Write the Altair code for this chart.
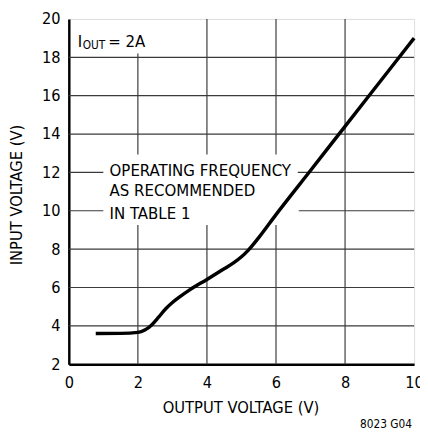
import altair as alt
import pandas as pd

FONT = "DejaVu Sans Condensed, Liberation Sans Narrow, sans-serif"

# Curve: output voltage (V) vs minimum input voltage (V), I_OUT = 2A
x_out = [0.78, 1.5, 2.0, 2.2, 2.4, 2.6, 2.8, 3.0, 3.2, 3.5, 4.0,
         4.5, 4.8, 5.0, 5.2, 5.5, 6.0, 7.0, 8.0, 9.0, 10.0]
v_in = [3.6, 3.61, 3.66, 3.78, 4.05, 4.45, 4.88, 5.22, 5.5, 5.88, 6.42,
        6.98, 7.32, 7.6, 7.95, 8.6, 9.8, 12.1, 14.4, 16.7, 19.0]

x_ticks = [0, 2, 4, 6, 8, 10]
y_ticks = [2, 4, 6, 8, 10, 12, 14, 16, 18, 20]

# Grid segments (broken where the annotations sit)
vgrid_x = [2, 2, 4, 4, 6, 6, 8]
vgrid_y1 = [2, 12.94, 2, 12.94, 2, 12.94, 2]
vgrid_y2 = [9.26, 18.2, 9.26, 20, 9.26, 20, 20]

hgrid_y = [4, 6, 8, 10, 10, 12, 12, 14, 16, 18]
hgrid_x1 = [0, 0, 0, 0, 6.66, 0, 6.63, 0, 0, 0]
hgrid_x2 = [10, 10, 10, 1.0, 10, 1.0, 10, 10, 10, 10]

# Annotations
note_text = ["OPERATING FREQUENCY", "AS RECOMMENDED", "IN TABLE 1"]
note_x = [1.18, 1.18, 1.18]
note_y = [11.82, 10.76, 9.57]

iout_text = ["I", "OUT", "= 2A"]
iout_x = [0.256, 0.40, 1.14]
iout_y = [18.55, 18.45, 18.55]
iout_size = [17, 12, 17]

foot_text = ["8023 G04"]
foot_x = [9.94]
foot_y = [-1.33]

xs = alt.Scale(domain=[0, 10], nice=False)
ys = alt.Scale(domain=[2, 20], nice=False)

curve = pd.DataFrame({"vout": x_out, "vin": v_in})
vg = pd.DataFrame({"gx": vgrid_x, "y1": vgrid_y1, "y2": vgrid_y2})
hg = pd.DataFrame({"gy": hgrid_y, "x1": hgrid_x1, "x2": hgrid_x2})
notes = pd.DataFrame({"t": note_text, "x": note_x, "y": note_y})
iout = pd.DataFrame({"t": iout_text, "x": iout_x, "y": iout_y, "s": iout_size})
foot = pd.DataFrame({"t": foot_text, "x": foot_x, "y": foot_y})

x_axis = alt.Axis(values=x_ticks, title="OUTPUT VOLTAGE (V)", grid=False, ticks=False,
                  labelFont=FONT, labelFontSize=16.5, labelColor="black", labelPadding=11,
                  titleFont=FONT, titleFontSize=16.7, titleFontWeight="normal",
                  titleColor="black", titleBaseline="middle", titleY=44, titleX=175,
                  domainColor="black", domainWidth=2.5, labelFlush=False)
y_axis = alt.Axis(values=y_ticks, title="INPUT VOLTAGE (V)", grid=False, ticks=False,
                  labelFont=FONT, labelFontSize=16.5, labelColor="black", labelPadding=9,
                  titleFont=FONT, titleFontSize=16.7, titleFontWeight="normal",
                  titleColor="black", titleBaseline="middle", titleX=-53, titleY=179,
                  titleAngle=-90, domainColor="black", domainWidth=2.5, labelFlush=False)


def X(field):
    return alt.X(field, scale=xs, axis=x_axis)


def Y(field):
    return alt.Y(field, scale=ys, axis=y_axis)


vrules = alt.Chart(vg).mark_rule(color="#3a3a3a", strokeWidth=1.2).encode(
    x=X("gx:Q"), y=Y("y1:Q"), y2="y2:Q",
)
hrules = alt.Chart(hg).mark_rule(color="#3a3a3a", strokeWidth=1.2).encode(
    y=Y("gy:Q"), x=X("x1:Q"), x2="x2:Q",
)
line = alt.Chart(curve).mark_line(color="black", strokeWidth=3.5, interpolate="monotone").encode(
    x=X("vout:Q"), y=Y("vin:Q"),
)
note_layer = alt.Chart(notes).mark_text(font=FONT, fontSize=17, align="left",
                                        baseline="alphabetic", color="black").encode(
    x=X("x:Q"), y=Y("y:Q"), text="t:N",
)
iout_layer = alt.Chart(iout).mark_text(font=FONT, align="left", baseline="alphabetic",
                                       color="black").encode(
    x=X("x:Q"), y=Y("y:Q"),
    size=alt.Size("s:Q", scale=None, legend=None),
    text="t:N",
)
foot_layer = alt.Chart(foot).mark_text(font=FONT, fontSize=12, align="right",
                                       baseline="alphabetic", color="black").encode(
    x=X("x:Q"), y=Y("y:Q"), text="t:N",
)

chart = alt.layer(vrules, hrules, line, note_layer, iout_layer, foot_layer).properties(
    width=352, height=352,
    autosize=alt.AutoSizeParams(type="none"),
    padding={"left": 62, "top": 7, "right": 6, "bottom": 69},
).configure_view(stroke="#222", strokeWidth=1.5).configure(background="white")

chart.save("out.html", embed_options={"renderer": "svg", "actions": False})
